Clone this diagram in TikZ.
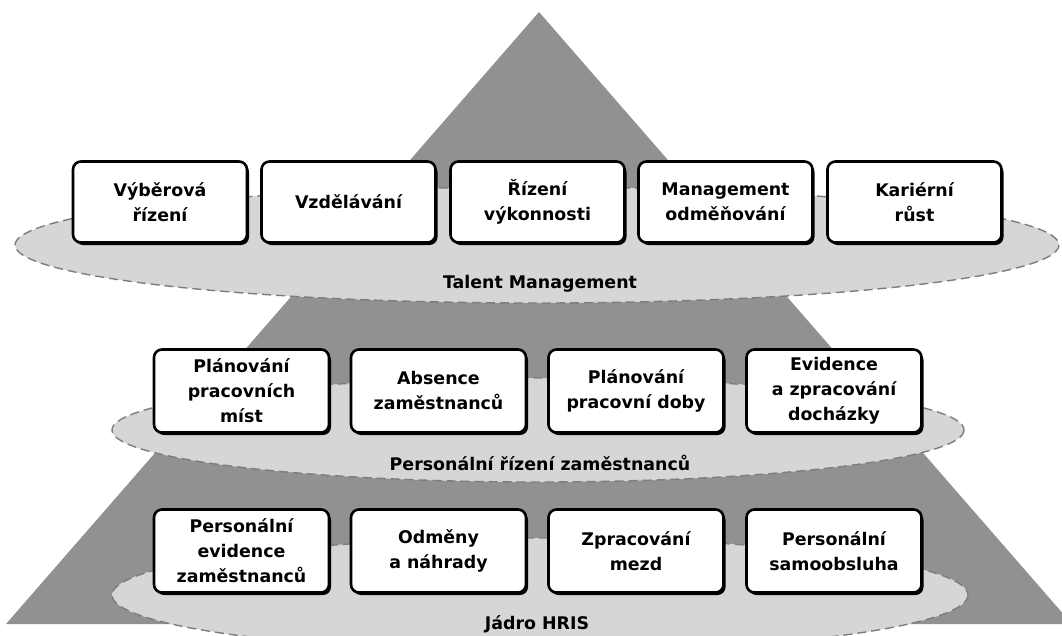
\documentclass[tikz,border=0pt]{standalone}
\usepackage{fontspec}
\setmainfont{DejaVu Sans}
\usetikzlibrary{shadows}
\definecolor{trigray}{RGB}{145,145,145}
\definecolor{ellgray}{RGB}{214,214,214}
\definecolor{dashgray}{RGB}{125,125,125}
\tikzset{
  modbox/.style={draw=black, line width=2.6pt, fill=white, rounded corners=8pt,
    minimum width=174pt, minimum height=81pt, align=center, inner sep=2pt,
    font=\fontsize{17.4}{25}\selectfont\bfseries,
    drop shadow={shadow xshift=2pt, shadow yshift=-2.5pt, fill=black, opacity=1}},
  layer/.style={fill=ellgray, draw=dashgray, line width=1.4pt, dash pattern=on 9pt off 5pt},
  layerlabel/.style={font=\fontsize{17.4}{20}\selectfont\bfseries, inner sep=0pt}
}
\begin{document}
\begin{tikzpicture}[x=1pt,y=-1pt]
\useasboundingbox (0,0) rectangle (1062,635);
\begin{scope}
\clip (0,0) rectangle (1062,635);
\fill[white] (0,0) rectangle (1062,635);
% pyramid
\fill[trigray] (539,12) -- (1072,624) -- (6,624) -- cycle;
% layers
\draw[layer] (540,595) ellipse [x radius=428, y radius=57];
\draw[layer] (538,430) ellipse [x radius=426, y radius=52];
\draw[layer] (537,245) ellipse [x radius=522, y radius=58];
\end{scope}
% labels of layers
\node[layerlabel] (tm) at (540,284) {Talent Management};
\node[layerlabel] (pr) at (540,463) {Personální řízení zaměstnanců};
\node[layerlabel] (jh) at (537,624) {Jádro HRIS};
% top row
\node[modbox] (t1) at (160,202) {Výběrová\\řízení};
\node[modbox] (t2) at (348.5,202) {Vzdělávání};
\node[modbox] (t3) at (537.5,202) {Řízení\\výkonnosti};
\node[modbox] (t4) at (725.5,202) {Management\\odměňování};
\node[modbox] (t5) at (914.5,202) {Kariérní\\růst};
% middle row
\node[modbox, minimum height=83pt, minimum width=175pt] (m1) at (241.5,391) {Plánování\\pracovních\\míst};
\node[modbox, minimum height=83pt, minimum width=175pt] (m2) at (438.5,391) {Absence\\zaměstnanců};
\node[modbox, minimum height=83pt, minimum width=175pt] (m3) at (636,391) {Plánování\\pracovní doby};
\node[modbox, minimum height=83pt, minimum width=175pt] (m4) at (834,391) {Evidence\\a zpracování\\docházky};
% bottom row
\node[modbox, minimum height=83pt, minimum width=175pt] (b1) at (241.5,551) {Personální\\evidence\\zaměstnanců};
\node[modbox, minimum height=83pt, minimum width=175pt] (b2) at (438.5,551) {Odměny\\a náhrady};
\node[modbox, minimum height=83pt, minimum width=175pt] (b3) at (636,551) {Zpracování\\mezd};
\node[modbox, minimum height=83pt, minimum width=175pt] (b4) at (834,551) {Personální\\samoobsluha};
\end{tikzpicture}
\end{document}
